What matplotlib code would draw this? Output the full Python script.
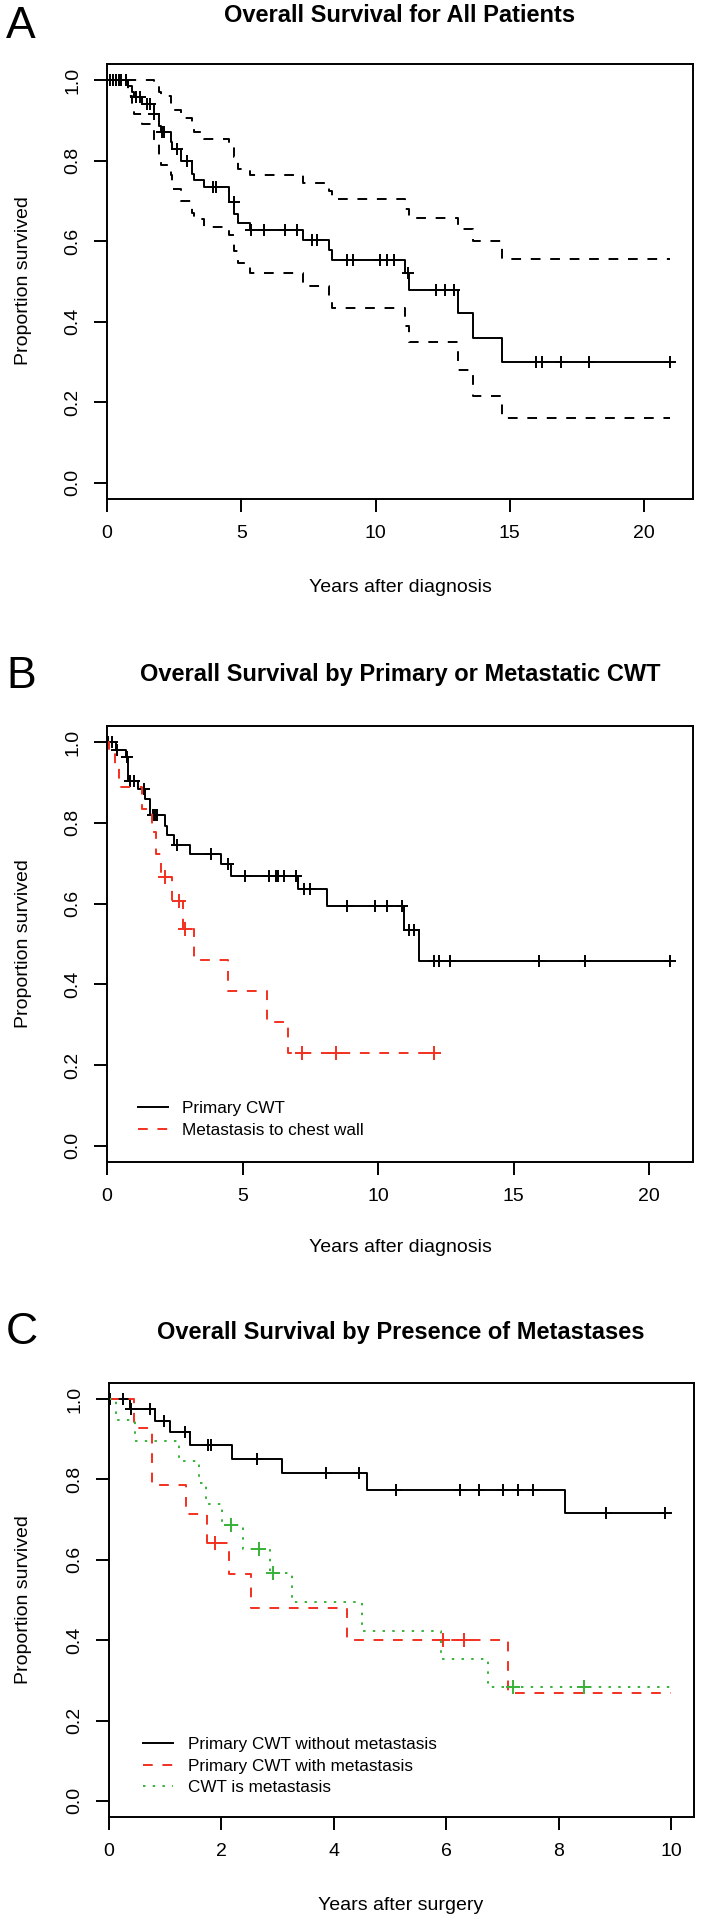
import numpy as np
import matplotlib.pyplot as plt
from matplotlib.lines import Line2D

plt.rcParams['font.family'] = ['Liberation Sans', 'DejaVu Sans']

# ---- Panel A: all patients (KM estimate with 95% CI) ----
a_times = [0.80, 0.93, 0.99, 1.30, 1.74, 1.95, 2.00, 2.37, 2.43, 2.74, 3.15, 3.25, 3.62,
           4.56, 4.74, 4.87, 5.31, 7.31, 8.25, 8.37, 11.09, 11.26, 13.08, 13.63, 14.70]
a_surv = [0.986, 0.970, 0.957, 0.941, 0.916, 0.887, 0.870, 0.846, 0.829, 0.800, 0.767, 0.751, 0.734,
          0.697, 0.668, 0.645, 0.627, 0.603, 0.577, 0.553, 0.521, 0.478, 0.421, 0.359, 0.300]
a_upper = [1.0, 1.0, 1.0, 1.0, 0.99, 0.97, 0.96, 0.94, 0.925, 0.905, 0.89, 0.87, 0.855,
           0.84, 0.81, 0.78, 0.765, 0.745, 0.725, 0.705, 0.68, 0.657, 0.63, 0.60, 0.555]
a_lower = [0.96, 0.935, 0.915, 0.89, 0.85, 0.80, 0.79, 0.765, 0.73, 0.70, 0.67, 0.655, 0.635,
           0.615, 0.575, 0.545, 0.52, 0.49, 0.465, 0.435, 0.39, 0.35, 0.28, 0.215, 0.16]
a_cens = [0.11, 0.24, 0.34, 0.43, 0.52, 0.71, 1.09, 1.24, 1.49, 1.61, 1.76, 2.05, 2.14, 2.59,
          2.99, 3.93, 4.06, 4.72, 5.35, 5.85, 6.62, 7.06, 7.62, 7.81, 8.94, 9.15, 10.17, 10.42,
          10.67, 11.21, 12.25, 12.59, 12.92, 15.99, 16.19, 16.91, 17.96, 20.98]

# ---- Panel B: primary vs metastatic CWT ----
b_prim_times = [0.35, 0.69, 0.79, 1.15, 1.40, 1.60, 2.14, 2.23, 2.47, 3.05, 4.21, 4.57,
                7.06, 8.11, 10.96, 11.51]
b_prim_surv = [0.980, 0.962, 0.905, 0.884, 0.860, 0.820, 0.793, 0.770, 0.746, 0.723, 0.698,
               0.669, 0.636, 0.594, 0.534, 0.458]
b_prim_cens = [0.05, 0.20, 0.36, 0.74, 0.86, 0.99, 1.35, 1.70, 1.78, 1.85, 2.59, 3.84, 4.45,
               5.08, 5.97, 6.23, 6.30, 6.53, 6.96, 7.25, 7.50, 8.85, 9.89, 10.31, 10.88, 11.13,
               11.34, 12.07, 12.23, 12.66, 15.94, 17.64, 20.78]
b_met_times = [0.08, 0.30, 0.46, 1.30, 1.65, 1.80, 2.00, 2.39, 2.80, 3.22, 4.48, 5.89, 6.68]
b_met_surv = [0.970, 0.942, 0.890, 0.834, 0.778, 0.722, 0.667, 0.607, 0.537, 0.460, 0.383,
              0.306, 0.229]
b_met_cens = [2.14, 2.64, 2.89, 7.19, 8.46, 12.07]
b_groups = ['Primary CWT', 'Metastasis to chest wall']

# ---- Panel C: by presence of metastases ----
c_nomet_times = [0.37, 0.81, 1.09, 1.44, 2.19, 3.07, 4.59, 8.10]
c_nomet_surv = [0.975, 0.946, 0.917, 0.885, 0.851, 0.816, 0.774, 0.716]
c_nomet_cens = [0.02, 0.25, 0.39, 0.73, 0.97, 1.35, 1.76, 1.81, 2.63, 3.86, 4.45, 5.10, 6.24,
                6.57, 7.01, 7.27, 7.54, 8.84, 9.88]
c_withmet_times = [0.45, 0.77, 1.36, 1.74, 2.13, 2.53, 4.24, 7.09]
c_withmet_surv = [0.929, 0.786, 0.714, 0.643, 0.564, 0.481, 0.401, 0.268]
c_withmet_cens = [1.88, 5.94, 6.32]
c_ismet_times = [0.12, 0.47, 1.24, 1.60, 1.72, 2.01, 2.39, 2.87, 3.26, 4.49, 5.90, 6.73]
c_ismet_surv = [0.948, 0.896, 0.845, 0.790, 0.738, 0.687, 0.628, 0.566, 0.494, 0.423, 0.354, 0.283]
c_ismet_cens = [2.17, 2.67, 2.92, 7.19, 8.45]
c_groups = ['Primary CWT without metastasis', 'Primary CWT with metastasis', 'CWT is metastasis']

RED = '#F2301F'
GREEN = '#38B238'
LW = 1.4
DASHED = (0, (5, 5))
DOTTED = (0, (1.25, 3.75))

W, H = 701, 1920
fig = plt.figure(figsize=(W / 100, H / 100), dpi=100)


def px(x, y):
    return x / W, 1 - y / H


def surv_at(times, surv, t):
    i = np.searchsorted(times, t, side='right')
    return 1.0 if i == 0 else surv[i - 1]


def km(ax, times, surv, end, color, ls, cens=None, ms=9):
    x = [0.0] + list(times) + [end]
    y = [1.0] + list(surv) + [surv[-1]]
    line, = ax.step(x, y, where='post', color=color, lw=LW, linestyle=ls)
    if cens:
        cy = [surv_at(times, surv, t) for t in cens]
        ax.plot(cens, cy, linestyle='none', marker='+', ms=ms, mew=LW, color=color)
    return line


def setup(ax, xmax, xticks):
    ax.set_xlim(0, xmax)
    ax.set_ylim(-0.04, 1.04)
    ax.set_xticks(xticks)
    ax.set_yticks([0.0, 0.2, 0.4, 0.6, 0.8, 1.0])
    ax.set_yticklabels(['0.0', '0.2', '0.4', '0.6', '0.8', '1.0'], rotation=90, va='center')
    ax.tick_params(direction='out', length=9.4, width=1.4, labelsize=14, pad=9)
    for s in ax.spines.values():
        s.set_linewidth(1.4)


def legend_handles(colors, styles):
    return [Line2D([], [], color=c, lw=LW, linestyle=s) for c, s in zip(colors, styles)]


# Panel A
axA = fig.add_axes([107 / W, 1 - 499 / H, 586 / W, 435 / H])
km(axA, a_times, a_upper, a_cens[-1], 'black', DASHED)
km(axA, a_times, a_lower, a_cens[-1], 'black', DASHED)
km(axA, a_times, a_surv, a_cens[-1], 'black', '-', a_cens, ms=8.5)
setup(axA, a_cens[-1] * 1.04, [0, 5, 10, 15, 20])
fig.text(*px(6, 6), 'A', fontsize=32, ha='left', va='top')
fig.text(*px(400, 15), 'Overall Survival for All Patients', fontsize=17, fontweight='bold',
         ha='center', va='center')
fig.text(*px(24, 281), 'Proportion survived', fontsize=14, rotation=90, ha='center', va='center')
fig.text(*px(400, 587), 'Years after diagnosis', fontsize=14, ha='center', va='center')

# Panel B
axB = fig.add_axes([107 / W, 1 - 1162 / H, 586 / W, 436 / H])
km(axB, b_prim_times, b_prim_surv, b_prim_cens[-1], 'black', '-', b_prim_cens, ms=8.5)
km(axB, b_met_times, b_met_surv, b_met_cens[-1], RED, DASHED, b_met_cens, ms=10)
setup(axB, b_prim_cens[-1] * 1.04, [0, 5, 10, 15, 20])
axB.legend(legend_handles(['black', RED], ['-', DASHED]), b_groups, loc='lower left',
           bbox_to_anchor=(0.038, 0.035), frameon=False, fontsize=12.3, borderpad=0,
           handlelength=1.75, handletextpad=0.85, labelspacing=0.4)
fig.text(*px(6, 656), 'B', fontsize=32, ha='left', va='top')
fig.text(*px(400, 675), 'Overall Survival by Primary or Metastatic CWT', fontsize=17,
         fontweight='bold', ha='center', va='center')
fig.text(*px(24, 944), 'Proportion survived', fontsize=14, rotation=90, ha='center', va='center')
fig.text(*px(400, 1248), 'Years after diagnosis', fontsize=14, ha='center', va='center')

# Panel C
axC = fig.add_axes([109 / W, 1 - 1817 / H, 585 / W, 434 / H])
km(axC, c_nomet_times, c_nomet_surv, 10.0, 'black', '-', c_nomet_cens, ms=8.5)
km(axC, c_withmet_times, c_withmet_surv, 10.0, RED, DASHED, c_withmet_cens, ms=10)
km(axC, c_ismet_times, c_ismet_surv, 10.0, GREEN, DOTTED, c_ismet_cens, ms=10)
setup(axC, 10.4, [0, 2, 4, 6, 8, 10])
axC.legend(legend_handles(['black', RED, GREEN], ['-', DASHED, DOTTED]), c_groups,
           loc='lower left', bbox_to_anchor=(0.043, 0.03), frameon=False, fontsize=12.3,
           borderpad=0, handlelength=1.8, handletextpad=0.85, labelspacing=0.4)
fig.text(*px(6, 1312), 'C', fontsize=32, ha='left', va='top')
fig.text(*px(401, 1333), 'Overall Survival by Presence of Metastases', fontsize=17,
         fontweight='bold', ha='center', va='center')
fig.text(*px(24, 1600), 'Proportion survived', fontsize=14, rotation=90, ha='center', va='center')
fig.text(*px(401, 1905), 'Years after surgery', fontsize=14, ha='center', va='center')

fig.savefig('out.png', dpi=100, facecolor='white')
